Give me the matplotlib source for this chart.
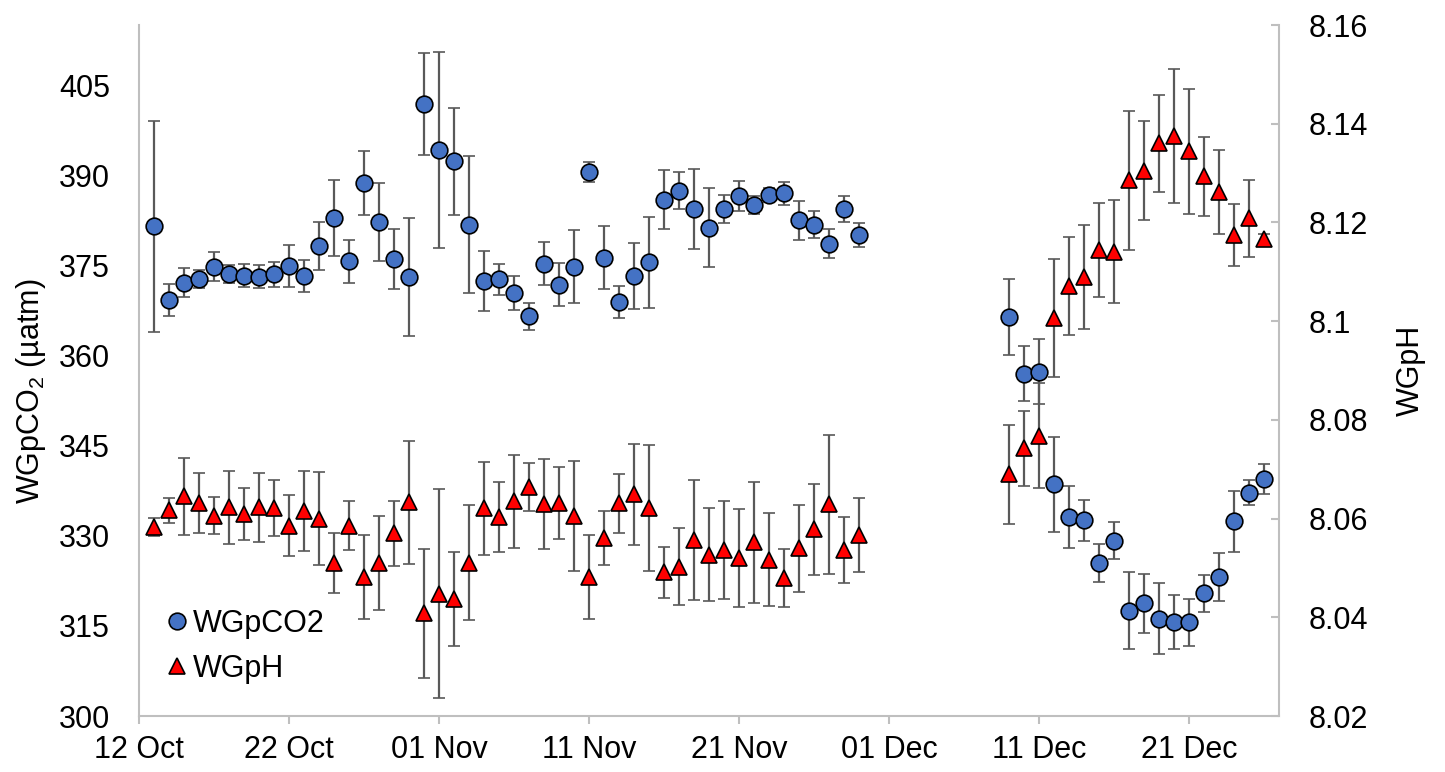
import matplotlib
matplotlib.use("Agg")
import matplotlib.pyplot as plt
import matplotlib.dates as mdates
from matplotlib.lines import Line2D
from matplotlib.ticker import FuncFormatter
import numpy as np

plt.rcParams['font.family'] = ['Liberation Sans', 'DejaVu Sans']
plt.rcParams['mathtext.fontset'] = 'custom'
plt.rcParams['mathtext.rm'] = 'Liberation Sans'

# daily sampling: 13 Oct - 29 Nov, then 9 Dec - 26 Dec
dates = np.concatenate([
    np.arange(np.datetime64('2017-10-13'), np.datetime64('2017-11-30')),
    np.arange(np.datetime64('2017-12-09'), np.datetime64('2017-12-27')),
])

pco2 = [381.5, 369.2, 372.1, 372.8, 374.8, 373.6, 373.3, 373.1, 373.5, 374.9,
        373.2, 378.2, 382.9, 375.7, 388.7, 382.2, 376.1, 373.0, 401.9,
        394.2, 392.3, 381.8, 372.4, 372.7, 370.4, 366.5, 375.3, 371.8, 374.8,
        390.5, 376.3, 368.9, 373.2, 375.5, 385.9, 387.4, 384.4, 381.3, 384.4,
        386.6, 385.1, 386.7, 387.0, 382.5, 381.8, 378.6, 384.4, 380.0,
        366.4, 357.0, 357.3, 338.6, 333.1, 332.6, 325.5, 329.2, 317.5, 318.8,
        316.2, 315.6, 315.6, 320.4, 323.2, 332.4, 337.2, 339.5]
pco2_sd = [17.6, 2.7, 2.4, 1.5, 2.4, 1.5, 1.9, 1.9, 2.1, 3.5,
           2.7, 4.0, 6.3, 3.6, 5.4, 6.5, 5.0, 9.8, 8.5,
           16.3, 8.9, 11.4, 5.0, 2.6, 2.8, 2.2, 3.6, 3.6, 6.1,
           1.7, 5.2, 2.7, 5.5, 7.6, 4.9, 3.1, 6.7, 6.6, 2.3,
           2.5, 1.5, 1.2, 1.9, 3.2, 2.2, 2.4, 2.2, 2.0,
           6.4, 4.6, 5.4, 7.9, 5.2, 3.4, 3.2, 3.1, 6.4, 4.9,
           5.9, 4.5, 3.9, 3.1, 4.0, 5.1, 2.0, 2.5]

ph = [8.0583, 8.0617, 8.0645, 8.0632, 8.0606, 8.0623, 8.0610, 8.0623, 8.0621, 8.0586,
      8.0615, 8.0600, 8.0510, 8.0586, 8.0481, 8.0510, 8.0570, 8.0633, 8.0408,
      8.0448, 8.0437, 8.0511, 8.0621, 8.0603, 8.0635, 8.0664, 8.0629, 8.0631, 8.0605,
      8.0481, 8.0560, 8.0631, 8.0649, 8.0621, 8.0491, 8.0502, 8.0557, 8.0527, 8.0536,
      8.0520, 8.0552, 8.0517, 8.0479, 8.0540, 8.0578, 8.0629, 8.0536, 8.0566,
      8.0690, 8.0743, 8.0768, 8.1006, 8.1071, 8.1089, 8.1144, 8.1141, 8.1285, 8.1305,
      8.1360, 8.1375, 8.1344, 8.1294, 8.1262, 8.1175, 8.1208, 8.1166]
ph_sd = [0.0018, 0.0025, 0.0078, 0.0061, 0.0037, 0.0074, 0.0053, 0.0070, 0.0057, 0.0061,
         0.0081, 0.0094, 0.0061, 0.0050, 0.0085, 0.0096, 0.0066, 0.0125, 0.0131,
         0.0211, 0.0095, 0.0116, 0.0094, 0.0071, 0.0094, 0.0049, 0.0091, 0.0073, 0.0111,
         0.0085, 0.0055, 0.0060, 0.0103, 0.0128, 0.0052, 0.0078, 0.0121, 0.0094, 0.0099,
         0.0099, 0.0122, 0.0095, 0.0059, 0.0088, 0.0093, 0.0141, 0.0067, 0.0075,
         0.0100, 0.0076, 0.0106, 0.0119, 0.0100, 0.0105, 0.0096, 0.0104, 0.0141, 0.0100,
         0.0099, 0.0135, 0.0127, 0.0080, 0.0085, 0.0063, 0.0077, 0.0010]

BLUE = '#4472C4'
RED = '#FF0000'
GREY = '#595959'
SPINE = '#BFBFBF'
FS = 22

fig = plt.figure(figsize=(14.45, 7.72), dpi=100)
ax = fig.add_axes([0.0962, 0.0725, 0.7889, 0.8951])
ax2 = ax.twinx()

err_kw = dict(ecolor=GREY, elinewidth=1.6, capsize=4.5, capthick=1.6, mec='black', mew=1.2, ms=12)
ax.errorbar(dates, pco2, yerr=pco2_sd, fmt='o', mfc=BLUE, **err_kw)
ax2.errorbar(dates, ph, yerr=ph_sd, fmt='^', mfc=RED, **err_kw)

ax.set_xlim(np.datetime64('2017-10-12'), np.datetime64('2017-12-27'))
ax.set_ylim(300, 415)
ax.set_yticks(np.arange(300, 406, 15))
ax2.set_ylim(8.02, 8.16)
ax2.set_yticks(np.arange(8.02, 8.161, 0.02))
ax2.yaxis.set_major_formatter(FuncFormatter(lambda v, p: f'{v:g}'))

ticks = np.arange(np.datetime64('2017-10-12'), np.datetime64('2017-12-28'), 10)
ax.set_xticks(ticks)
ax.xaxis.set_major_formatter(mdates.DateFormatter('%d %b'))

for s in ['top', 'right']:
    ax.spines[s].set_visible(False)
for s in ['top', 'left', 'bottom']:
    ax2.spines[s].set_visible(False)
for sp in [ax.spines['left'], ax.spines['bottom'], ax2.spines['right']]:
    sp.set_color(SPINE)
    sp.set_linewidth(1.5)

ax.tick_params(axis='y', length=0, pad=21, labelsize=FS)
ax.tick_params(axis='x', length=6, width=1.5, color=SPINE, direction='out', pad=8, labelsize=FS)
ax2.tick_params(axis='y', length=6, width=1.5, color=SPINE, direction='in', pad=21, labelsize=FS)

ax.set_ylabel('WGpCO$_2$ (µatm)', fontsize=FS)
ax.yaxis.set_label_coords(-0.080, 0.47)
ax2.set_ylabel('WGpH', fontsize=FS, labelpad=20)

handles = [
    Line2D([], [], marker='o', ls='none', ms=12, mfc=BLUE, mec='black', mew=1.2),
    Line2D([], [], marker='^', ls='none', ms=12, mfc=RED, mec='black', mew=1.2),
]
ax2.legend(handles, ['WGpCO2', 'WGpH'], loc='lower left', bbox_to_anchor=(0.011, 0.024),
           frameon=False, fontsize=FS, handlelength=0.65, handletextpad=0.2,
           labelspacing=0.5, borderpad=0)

fig.savefig('out.png', dpi=100)
